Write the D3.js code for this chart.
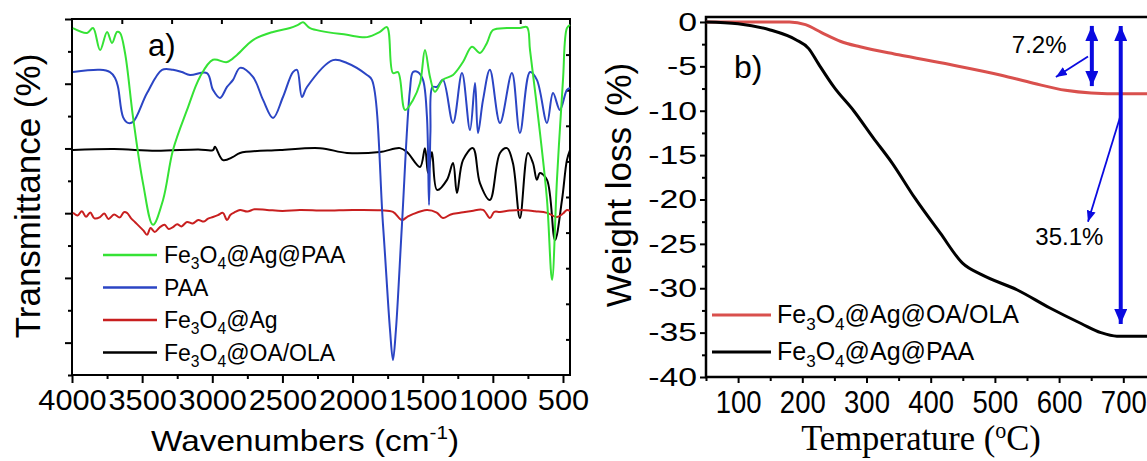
<!DOCTYPE html>
<meta charset="utf-8">
<head>
<style>
  body { margin: 0; background: #fff; }
  svg { display: block; font-family: 'Liberation Sans', Arial, sans-serif; }
</style>
</head>
<body>
<div id="chart"></div>
<script src="https://d3js.org/d3.v7.min.js"></script>
<script>
// ---------- panel a: FTIR spectra (transmittance, arbitrary offset units) ----------
var irNames  = ["Fe3O4@Ag@PAA", "PAA", "Fe3O4@Ag", "Fe3O4@OA/OLA"];
var irColors = ["#35e235", "#2b45c4", "#c81f1f", "#000000"];

var greenWn = [3993,3893,3850,3800,3750,3715,3679,3658,3622,3565,3494,3423,3351,3280,3180,3088,2995,2895,2824,2710,2567,2446,2389,2353,2303,2040,1897,1805,1755,1712,1676,1626,1569,1519,1484,1448,1413,1356,1284,1213,1149,1092,1042,999,899,807,757,735,664,614,578,543,500,472,450];
var greenT  = [107.2,105.7,107.2,100.4,106,102.6,106,105.7,99.5,79.7,59.3,46.4,54.1,69.5,81.9,92.1,97.4,96.7,98.9,103.5,106,107.2,108.2,109,107.2,105.1,104.4,106,107.5,93.3,93.6,81.9,85,90.2,100.4,92.1,87.5,91.2,92.7,96.7,101.4,99.5,102.6,106.6,107.2,107.2,107.5,100.4,74.8,54.1,29.4,60.3,91.2,107.2,108.2];

var blueWn = [3993,3800,3729,3693,3672,3636,3601,3565,3465,3358,3280,3216,3159,3038,2995,2945,2895,2852,2802,2710,2638,2567,2496,2425,2396,2361,2325,2140,2040,1897,1862,1783,1733,1712,1691,1648,1591,1569,1534,1498,1470,1455,1445,1430,1398,1356,1284,1220,1163,1127,1106,1070,1021,949,864,807,735,686,614,571,522,472,450];
var blueT  = [93.6,94.3,93.6,91.8,89,79.7,77.9,78.2,87.1,94.3,94.3,93.6,92.7,93.3,88.1,85.6,89,91.2,94.9,92.1,85,79.4,85.9,93.6,94.3,85.9,89,97.3,96.4,92.7,91.2,46.4,13.9,4.6,13.9,46.4,88.1,93.6,93.6,91.2,80,52.5,75,89,89,91.2,77.9,93.3,75.7,90.2,74.8,85,94.3,77.9,93.3,74.8,93.6,91.2,77.9,87.1,81.9,88.1,88.7];

var redWn = [3993,3960,3930,3900,3870,3840,3800,3770,3740,3700,3660,3630,3608,3580,3550,3515,3490,3465,3440,3410,3373,3340,3310,3280,3250,3220,3180,3140,3100,3060,3030,2995,2960,2924,2895,2870,2840,2802,2750,2700,2610,2500,2375,2200,2000,1800,1712,1648,1612,1570,1470,1400,1356,1300,1234,1150,1070,1021,990,949,880,807,700,614,543,500,472,450];
var redT  = [50.1,49.3,50.6,48.9,50.2,48.4,48.8,49.9,48.2,49.6,48.7,50.3,50.1,48.5,47.2,45.7,44.6,43.3,45.4,44.2,45.7,46.4,45.1,45.7,46.6,45.9,47.3,46.8,47.9,47.4,48.3,48.8,49.4,50.1,47.9,49.5,50.3,51,50.5,51.2,51,50.7,51,50.8,51,50.9,50.4,47.9,48.8,49.7,51,50.2,48.5,49.6,50.1,50.7,51,48.5,50.4,50.4,50.8,51,50.6,50.1,48.8,49.9,51,50.7];

var blackWn = [3993,3700,3400,3100,2995,2981,2924,2852,2802,2517,2232,2040,1805,1662,1612,1519,1484,1462,1434,1398,1327,1284,1256,1213,1142,1092,1021,949,899,857,807,750,714,686,664,614,557,507,472,450];
var blackT  = [69.5,69.8,69.3,69.7,69.5,70.5,66.4,67.4,68.6,69.5,70.1,68.6,68.9,70.1,68.9,64.3,70.1,62.4,68.9,57.2,60.3,65.5,56.2,66.4,70.1,59.3,54.1,68.6,70.1,65.5,48.5,68.6,65.5,60.3,62.4,60.3,41.7,54.1,66.4,69.5];

var irMajor = [4000,3500,3000,2500,2000,1500,1000,500];
var irMinor = [3750,3250,2750,2250,1750,1250,750];

// ---------- panel b: TGA ----------
var tgaNames  = ["Fe3O4@Ag@OA/OLA", "Fe3O4@Ag@PAA"];
var tgaColors = ["#d9504d", "#000000"];
var oaTemp  = [50,120,180,205,230,260,290,350,430,510,560,610,650,700,750];
var oaLoss  = [0,0,0,-0.3,-1.2,-2.2,-2.8,-3.7,-4.8,-6.0,-6.9,-7.7,-8.0,-8.1,-8.1];
var paaTemp = [50,100,150,190,210,225,250,280,310,340,375,415,450,480,535,585,635,665,690,750];
var paaLoss = [0,-0.2,-0.9,-2.0,-3.0,-4.7,-7.4,-10,-13,-15.9,-19.8,-23.8,-27.2,-28.5,-30.2,-32.2,-34,-35,-35.4,-35.4];
var tempMajor = [100,200,300,400,500,600,700];
var tempMinor = [50,150,250,350,450,550,650,750];
var lossMajor = [-40,-35,-30,-25,-20,-15,-10,-5,0];
var lossMinor = [-37.5,-32.5,-27.5,-22.5,-17.5,-12.5,-7.5,-2.5];

// annotations (data units)
var bigArrows  = [{t: 651, top: 0.23, bottom: -7.9}, {t: 696, top: 0.23, bottom: -34.7}];
var thinArrows = [{t1: 645, w1: -3.9, t2: 595, w2: -6.2}, {t1: 695, w1: -10.7, t2: 645, w2: -22.5}];
var notes      = [{t: 569, w: -3.5, label: "7.2%"}, {t: 616, w: -25.1, label: "35.1%"}];

var W = 1147, H = 461;
var FONT = "'Liberation Sans', Arial, sans-serif";

var svg = d3.select("#chart").append("svg")
  .attr("width", W)
  .attr("height", H);

var defs = svg.append("defs");
function marker(id, len, wid) {
  defs.append("marker")
    .attr("id", id)
    .attr("markerUnits", "userSpaceOnUse")
    .attr("viewBox", "0 0 " + len + " " + wid)
    .attr("refX", len).attr("refY", wid / 2)
    .attr("markerWidth", len).attr("markerHeight", wid)
    .attr("orient", "auto-start-reverse")
    .append("path")
      .attr("d", "M0,0L" + len + "," + (wid / 2) + "L0," + wid + "Z")
      .attr("fill", "#0a0ae0");
}
marker("headBig", 15, 13);
marker("headThin", 11, 9);

// write a formula like Fe3O4@Ag with subscripted digits
function formula(textSel, s, fs) {
  var parts = s.split(/(\d)/), wasSub = false;
  parts.forEach(function(p) {
    if (!p) return;
    var sub = /^\d$/.test(p);
    var ts = textSel.append("tspan").text(p);
    if (sub) ts.attr("font-size", fs * 0.68).attr("dy", wasSub ? 0 : fs * 0.28);
    else if (wasSub) ts.attr("dy", -fs * 0.28);
    wasSub = sub;
  });
}

// ================= panel a =================
var xA = d3.scaleLinear().domain([4000, 450]).range([72, 570]);
var yA = d3.scaleLinear().domain([0, 110]).range([375, 19]);
var yAr = d3.scaleLinear().domain([0, 10]).range([375, 19]);
var xAt = d3.scaleLinear().domain([0, 10]).range([72, 570]);

var gA = svg.append("g");

function styleAxis(g) {
  g.select(".domain").remove();
  g.selectAll(".tick line").attr("stroke", "#000").attr("stroke-width", 2);
  g.attr("font-family", FONT);
}

gA.append("g").attr("transform", "translate(0,375)")
  .call(d3.axisBottom(xA).tickValues(irMajor).tickSize(8).tickPadding(6).tickFormat(d3.format("d")))
  .call(styleAxis)
  .attr("font-size", 29)
  .selectAll("text").attr("fill", "#000").attr("transform", "scale(1.06,1)");
gA.append("g").attr("transform", "translate(0,375)")
  .call(d3.axisBottom(xA).tickValues(irMinor).tickSize(4).tickFormat(""))
  .call(styleAxis);
gA.append("g").attr("transform", "translate(72,0)")
  .call(d3.axisLeft(yA).tickValues([10,30,50,70,90,110]).tickSize(7).tickFormat(""))
  .call(styleAxis);
gA.append("g").attr("transform", "translate(72,0)")
  .call(d3.axisLeft(yA).tickValues([0,20,40,60,80,100]).tickSize(4).tickFormat(""))
  .call(styleAxis);
gA.append("g").attr("transform", "translate(570,0)")
  .call(d3.axisLeft(yAr).tickValues(d3.range(1, 10)).tickSize(4).tickFormat(""))
  .call(styleAxis);
gA.append("g").attr("transform", "translate(0,19)")
  .call(d3.axisBottom(xAt).tickValues(d3.range(1, 10)).tickSize(5).tickFormat(""))
  .call(styleAxis);

gA.append("rect")
  .attr("x", xA.range()[0]).attr("y", yA.range()[1])
  .attr("width", xA.range()[1] - xA.range()[0])
  .attr("height", yA.range()[0] - yA.range()[1])
  .attr("fill", "none").attr("stroke", "#000").attr("stroke-width", 2);

var irSeries = [
  {wn: greenWn, t: greenT, i: 0},
  {wn: blueWn,  t: blueT,  i: 1},
  {wn: redWn,   t: redT,   i: 2},
  {wn: blackWn, t: blackT, i: 3}
];
var lineA = d3.line()
  .x(function(d) { return xA(d[0]); })
  .y(function(d) { return yA(d[1]); })
  .curve(d3.curveCatmullRom.alpha(0.5));

// draw black, red, blue, then green on top
[3, 2, 1, 0].forEach(function(k) {
  var s = irSeries[k];
  gA.append("path")
    .datum(d3.zip(s.wn, s.t))
    .attr("d", lineA)
    .attr("fill", "none")
    .attr("stroke", irColors[s.i])
    .attr("stroke-width", 2)
    .attr("stroke-linejoin", "round");
});

// legend a
irNames.forEach(function(n, i) {
  var ly = 255 + i * 32.5;
  gA.append("line").attr("x1", 103).attr("x2", 157).attr("y1", ly).attr("y2", ly)
    .attr("stroke", irColors[i]).attr("stroke-width", 2.5);
  var t = gA.append("text").attr("x", 164).attr("y", ly + 8)
    .attr("font-size", 23).attr("font-family", FONT).attr("fill", "#000");
  formula(t, n, 23);
});

gA.append("text").attr("x", 148).attr("y", 56).attr("font-size", 31)
  .attr("font-family", FONT).text("a)");

gA.append("text")
  .attr("transform", "translate(40,196) rotate(-90)")
  .attr("text-anchor", "middle").attr("font-size", 35).attr("font-family", FONT)
  .text("Transmittance (%)");

var wt = gA.append("text")
  .attr("transform", "translate(305,451) scale(1.15,1)")
  .attr("text-anchor", "middle").attr("font-size", 29).attr("font-family", FONT);
wt.append("tspan").text("Wavenumbers (cm");
wt.append("tspan").text("-1").attr("font-size", 18).attr("dy", -12);
wt.append("tspan").text(")").attr("dy", 12);

// ================= panel b =================
var xB = d3.scaleLinear().domain([50, 800]).range([706, 1187.5]);
var yB = d3.scaleLinear().domain([-40, 0.56]).range([377, 17]);
var gB = svg.append("g");

gB.append("g").attr("transform", "translate(0,377)")
  .call(d3.axisBottom(xB).tickValues(tempMajor).tickSize(6).tickPadding(7).tickFormat(function(d) { return String(d); }))
  .call(styleAxis)
  .attr("font-size", 32)
  .selectAll("text").attr("fill", "#000").attr("transform", "scale(0.86,1)");
gB.append("g").attr("transform", "translate(0,377)")
  .call(d3.axisBottom(xB).tickValues(tempMinor).tickSize(4).tickFormat(""))
  .call(styleAxis);
gB.append("g").attr("transform", "translate(706,0)")
  .call(d3.axisLeft(yB).tickValues(lossMajor).tickSize(6).tickFormat(function(d) { return String(d); }))
  .call(styleAxis)
  .attr("font-size", 26)
  .selectAll("text").attr("fill", "#000").attr("x", 0).attr("transform", "translate(-9,0) scale(1.3,1)");
gB.append("g").attr("transform", "translate(706,0)")
  .call(d3.axisLeft(yB).tickValues(lossMinor).tickSize(4).tickFormat(""))
  .call(styleAxis);

// frame (left, bottom, top)
var bx0 = xB.range()[0], bx1 = xB.range()[1], by0 = yB.range()[0], by1 = yB.range()[1];
gB.append("path")
  .attr("d", "M" + bx1 + "," + by1 + "H" + bx0 + "V" + by0 + "H" + bx1)
  .attr("fill", "none").attr("stroke", "#000").attr("stroke-width", 2.5);

var lineB = d3.line()
  .x(function(d) { return xB(d[0]); })
  .y(function(d) { return yB(d[1]); })
  .curve(d3.curveMonotoneX);

[[oaTemp, oaLoss, 0], [paaTemp, paaLoss, 1]].forEach(function(s) {
  gB.append("path")
    .datum(d3.zip(s[0], s[1]))
    .attr("d", lineB)
    .attr("fill", "none")
    .attr("stroke", tgaColors[s[2]])
    .attr("stroke-width", 3);
});

// arrows
bigArrows.forEach(function(a) {
  gB.append("line")
    .attr("x1", xB(a.t)).attr("x2", xB(a.t))
    .attr("y1", yB(a.top) + 6).attr("y2", yB(a.bottom) - 6)
    .attr("stroke", "#0a0ae0").attr("stroke-width", 4)
    .attr("marker-start", "url(#headBig)").attr("marker-end", "url(#headBig)");
});
thinArrows.forEach(function(a) {
  gB.append("line")
    .attr("x1", xB(a.t1)).attr("y1", yB(a.w1))
    .attr("x2", xB(a.t2)).attr("y2", yB(a.w2))
    .attr("stroke", "#0a0ae0").attr("stroke-width", 1.8)
    .attr("marker-end", "url(#headThin)");
});
notes.forEach(function(n) {
  gB.append("text")
    .attr("x", xB(n.t)).attr("y", yB(n.w))
    .attr("text-anchor", "middle").attr("font-size", 24).attr("font-family", FONT)
    .text(n.label);
});

// legend b
tgaNames.forEach(function(n, i) {
  var ly = 315 + i * 37;
  gB.append("line").attr("x1", 712).attr("x2", 771).attr("y1", ly).attr("y2", ly)
    .attr("stroke", tgaColors[i]).attr("stroke-width", 3);
  var t = gB.append("text").attr("x", 777).attr("y", ly + 8)
    .attr("font-size", 25).attr("font-family", FONT).attr("fill", "#000");
  formula(t, n, 25);
});

gB.append("text").attr("x", 734).attr("y", 78).attr("font-size", 32)
  .attr("font-family", FONT).text("b)");

gB.append("text")
  .attr("transform", "translate(631,185) rotate(-90)")
  .attr("text-anchor", "middle").attr("font-size", 35).attr("font-family", FONT)
  .text("Weight loss (%)");

var tt = gB.append("text")
  .attr("transform", "translate(921,450) scale(0.96,1)")
  .attr("text-anchor", "middle").attr("font-size", 36)
  .attr("font-family", "'Liberation Serif', 'Times New Roman', serif");
tt.append("tspan").text("Temperature (");
tt.append("tspan").text("o").attr("font-size", 23).attr("dy", -12);
tt.append("tspan").text("C)").attr("dy", 12);
</script>
</body>
